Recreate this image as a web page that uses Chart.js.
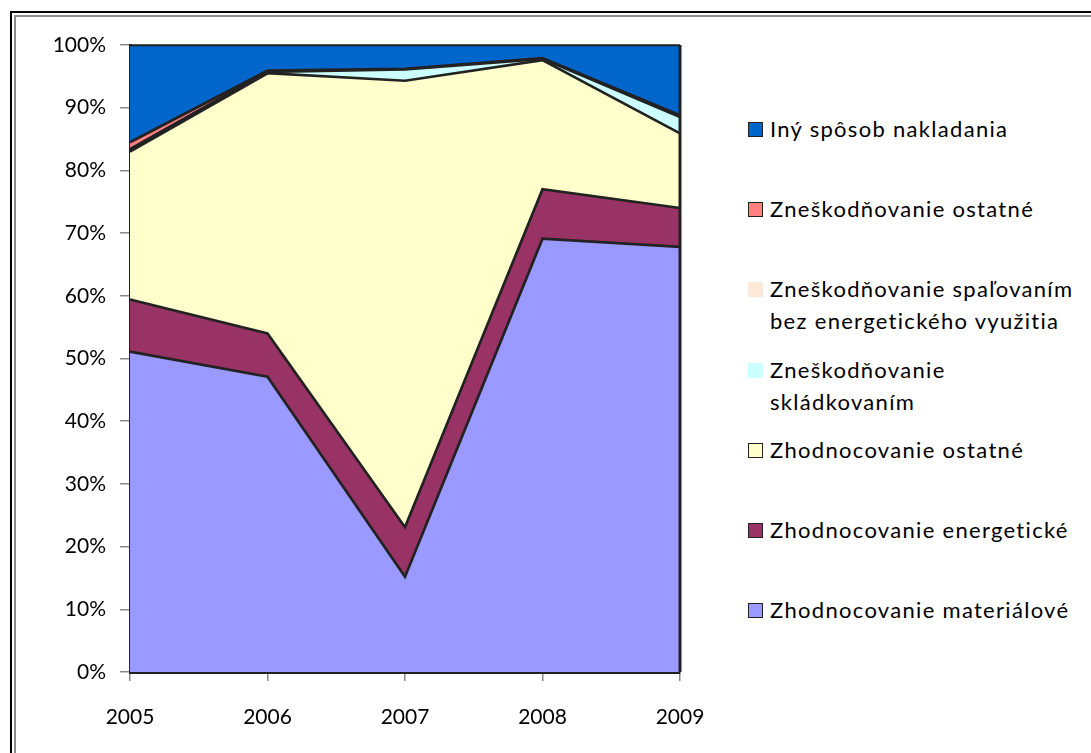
<!DOCTYPE html>
<html>
<head>
<meta charset="utf-8">
<script src="https://cdn.jsdelivr.net/npm/chart.js@4.4.1/dist/chart.umd.min.js"></script>
<style>
  html, body { margin: 0; padding: 0; background: #fff; }
  body { width: 1091px; height: 753px; position: relative; overflow: hidden; font-family: Lato, "Open Sans", sans-serif; }
  .frame { position: absolute; left: 10px; top: 11px; width: 1200px; height: 900px; border: 2px solid #000; }
  .frame-inner { position: absolute; left: 2px; top: 2px; right: 0; bottom: 0; border-left: 2px solid #8c8c8c; border-top: 2px solid #8c8c8c; }
  #wrap { position: absolute; left: 0; top: 0; width: 720px; height: 753px; }
  #legend { position: absolute; left: 748px; top: 0; }
  .item { position: absolute; left: 0; white-space: pre-line; font-size: 22px; letter-spacing: 1.3px; line-height: 32px; color: #000; width: 345px; }
  .box { position: absolute; left: 0; top: 9px; width: 13px; height: 13px; border: 1px solid #222; }
  .txt { margin-left: 22px; }
</style>
</head>
<body>
<div class="frame"><div class="frame-inner"></div></div>
<div id="wrap"><canvas id="chart"></canvas></div>
<div id="legend"></div>
<script>
const years = ['2005', '2006', '2007', '2008', '2009'];

const seriesNames = [
  'Zhodnocovanie materiálové',
  'Zhodnocovanie energetické',
  'Zhodnocovanie ostatné',
  'Zneškodňovanie\nskládkovaním',
  'Zneškodňovanie spaľovaním\nbez energetického využitia',
  'Zneškodňovanie ostatné',
  'Iný spôsob nakladania'
];

// shares in % per year (2005..2009)
const materialove = [51.1, 47.1, 15.2, 69.1, 67.8];
const energeticke = [8.3, 6.9, 7.9, 7.9, 6.2];
const zhodnOstatne = [23.6, 41.5, 71.2, 20.6, 11.9];
const skladkovanim = [0.3, 0.2, 1.8, 0.2, 2.6];
const spalovanim = [0.1, 0.0, 0.0, 0.0, 0.0];
const zneskOstatne = [1.1, 0.2, 0.1, 0.1, 0.3];
const inySposob = [15.5, 4.1, 3.8, 2.1, 11.2];

const yTicks = [0, 10, 20, 30, 40, 50, 60, 70, 80, 90, 100];

const seriesValues = [materialove, energeticke, zhodnOstatne, skladkovanim, spalovanim, zneskOstatne, inySposob];
const seriesColors = ['#9999ff', '#993366', '#ffffcc', '#ccffff', '#fde9d9', '#ff8080', '#0066cc'];

const datasets = seriesNames.map((name, i) => ({
  label: name,
  data: seriesValues[i],
  backgroundColor: seriesColors[i],
  borderColor: '#222',
  borderWidth: 2.7,
  fill: i === 0 ? 'origin' : '-1',
  pointRadius: 0,
  tension: 0
}));

const frameLines = {
  id: 'frameLines',
  afterDatasetsDraw(chart) {
    const { ctx, chartArea: a } = chart;
    ctx.save();
    ctx.strokeStyle = '#222';
    ctx.lineWidth = 1.5;
    ctx.beginPath();
    ctx.moveTo(a.left, a.top);
    ctx.lineTo(a.right, a.top);
    ctx.stroke();
    ctx.lineWidth = 3;
    ctx.beginPath();
    ctx.moveTo(a.right, a.top);
    ctx.lineTo(a.right, a.bottom);
    ctx.stroke();
    ctx.restore();
  }
};

const font = { family: 'Lato, "Open Sans", sans-serif', size: 21 };

const chart = new Chart(document.getElementById('chart'), {
  type: 'line',
  data: { labels: years, datasets: datasets },
  options: {
    responsive: true,
    maintainAspectRatio: false,
    animation: false,
    layout: { padding: { top: 45, right: 40, bottom: 16, left: 0 } },
    plugins: {
      legend: { display: false },
      tooltip: { enabled: false }
    },
    scales: {
      x: {
        offset: false,
        grid: { display: true, drawOnChartArea: false, color: '#8a8a8a', tickLength: 9, lineWidth: 1.5 },
        border: { display: true, color: '#222', width: 3 },
        ticks: { color: '#000', font: font, padding: 24, maxRotation: 0 },
        afterFit: s => { s.height = 65; s.paddingLeft = 0; s.paddingRight = 0; }
      },
      y: {
        stacked: true,
        min: 0,
        max: 100,
        afterBuildTicks: s => { s.ticks = yTicks.map(v => ({ value: v })); },
        grid: { display: true, drawOnChartArea: false, color: '#8a8a8a', tickLength: 10, lineWidth: 1.5 },
        border: { display: true, color: '#222', width: 3 },
        ticks: { color: '#000', font: font, padding: 14, callback: v => v + '%' },
        afterFit: s => { s.width = 130; }
      }
    }
  },
  plugins: [frameLines]
});

// legend, listed top-down like the stack
const legend = document.getElementById('legend');
chart.data.datasets.slice().reverse().forEach((ds, i) => {
  const item = document.createElement('div');
  item.className = 'item';
  item.style.top = (113 + i * 80.2) + 'px';
  const box = document.createElement('div');
  box.className = 'box';
  box.style.background = ds.backgroundColor;
  if (ds.backgroundColor === '#fde9d9' || ds.backgroundColor === '#ccffff') box.style.borderColor = ds.backgroundColor;
  const txt = document.createElement('div');
  txt.className = 'txt';
  txt.textContent = ds.label;
  item.appendChild(box);
  item.appendChild(txt);
  legend.appendChild(item);
});
</script>
</body>
</html>
